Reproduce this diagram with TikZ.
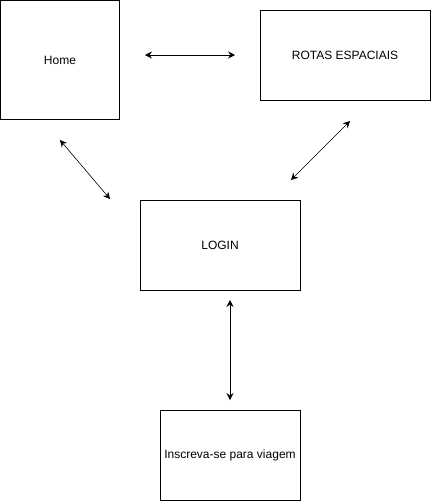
\documentclass[tikz,border=0pt]{standalone}
\usepackage{fontspec}
\setmainfont{Liberation Sans}
\usetikzlibrary{arrows.meta}
\tikzset{
	tela/.style={draw, thick, fill=white, font=\fontsize{12}{14}\selectfont, inner sep=0pt, outer sep=0pt, anchor=north west},
	liga/.style={{Stealth[length=7pt,width=7pt,inset=2.5pt]}-{Stealth[length=7pt,width=7pt,inset=2.5pt]}, semithick}
}

\begin{document}
\begin{tikzpicture}[x=1pt, y=-1pt]
				\useasboundingbox (0, 0) rectangle (431, 501);
				
				\node[tela, minimum width=119pt, minimum height=119pt] (home) at (0.5, 0.5) {Home};
				\node[tela, minimum width=170pt, minimum height=90pt] (rotas) at (260, 10) {ROTAS ESPACIAIS};
				\node[tela, minimum width=160pt, minimum height=90pt] (login) at (140, 200) {LOGIN};
				\node[tela, minimum width=140pt, minimum height=90pt] (inscricao) at (160, 410) {Inscreva-se para viagem};
				
				\coordinate (a1) at (145, 55);
				\coordinate (a2) at (235, 55);
				\coordinate (b1) at (60, 140);
				\coordinate (b2) at (110, 199);
				\coordinate (c1) at (350, 121);
				\coordinate (c2) at (291, 180);
				\coordinate (d1) at (230, 300);
				\coordinate (d2) at (230, 400);
				
				\draw[liga] (a1) -- (a2);
				\draw[liga] (b1) -- (b2);
				\draw[liga] (c1) -- (c2);
				\draw[liga] (d1) -- (d2);
			\end{tikzpicture}
\end{document}
